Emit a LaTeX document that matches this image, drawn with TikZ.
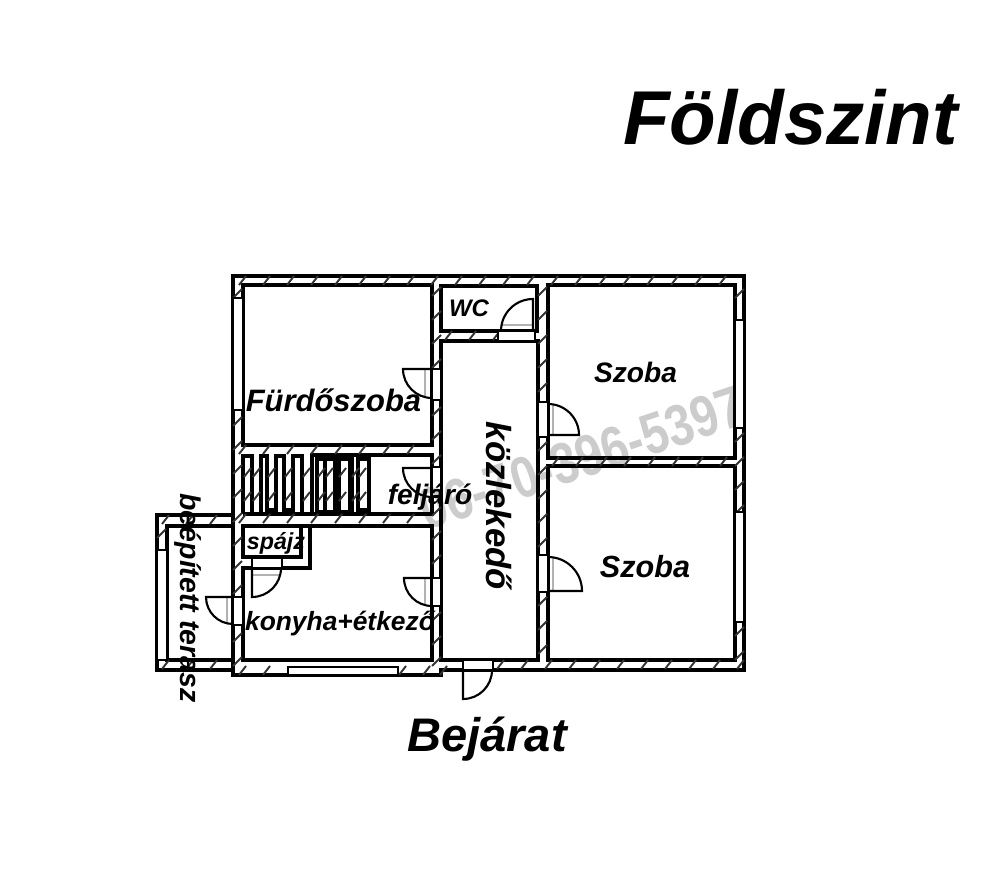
\documentclass[tikz,border=0pt]{standalone}
\usepackage{fontspec}
\setmainfont{Liberation Sans}
\newcommand\hatchH[2]{\foreach \t in {#1}{\draw[tick] (\t,#2+9) -- ++(7,-9);}}
\newcommand\hatchV[2]{\foreach \t in {#2}{\draw[tick] (#1,\t+6) -- ++(9,-9);}}
\newcommand\door[5]{% hinge x, hinge y, start angle, end angle, radius
    \draw[leaf] (#1,#2) -- ++(#3:#5) arc[start angle=#3,end angle=#4,radius=#5];
}
\tikzset{
    wall/.style={line width=.95pt,draw=black},
    tick/.style={line width=.55pt,draw=black!80},
    leaf/.style={line width=.6pt,draw=black},
    gapbox/.style={line width=.5pt,draw=black,fill=white},
    guide/.style={line width=.5pt,draw=black!30},
    label/.style={inner sep=0pt},
}
\begin{document}
\begin{tikzpicture}[x=.01cm,y=-.01cm]
    \useasboundingbox[fill=white] (0,0) rectangle (1000,882);
    % outer walls
    \draw[wall] (233,276) -- (744,276) -- (744,670) -- (441,670) -- (441,675) -- (233,675) -- cycle;
    \draw[wall] (233,515) -- (157,515) -- (157,670) -- (233,670);
    % rooms
    \draw[wall] (243,285) rectangle (432,445);
    \draw[wall] (441,286) rectangle (537,331);
    \draw[wall] (441,341) rectangle (538,660);
    \draw[wall] (548,285) rectangle (735,458);
    \draw[wall] (548,466) rectangle (735,660);
    \draw[wall] (233,526) -- (167,526) -- (167,660) -- (233,660);
    \draw[wall] (243,526) rectangle (301,557);
    \draw[wall] (310,526) -- (432,526) -- (432,660) -- (243,660) -- (243,568) -- (310,568) -- cycle;
    \draw[wall] (243,526) -- (310,526);
    % stair room
    \draw[wall] (312,514) -- (312,455) -- (432,455) -- (432,514) -- (243,514);
    \foreach \xa/\xb in {243/252,261/267,276/284,293/302}{
        \draw[wall] (\xa,514) -- (\xa,456) -- (\xb,456) -- (\xb,514);
    }
    \foreach \xa/\xb in {267/276,284/293}{
        \draw[wall] (\xa,510) -- (\xb,510);
    }
    \draw[wall] (317,459) rectangle (352,512);
    \foreach \x in {325,350}{
        \draw[wall] (\x,459) -- (\x,512);
    }
    \draw[line width=2.2pt] (337,459) -- (337,512);
    \draw[wall] (358,459) rectangle (369,510);
    % treads
    \foreach \x in {244,253,268,285,303,318,326,339,352,359}{
        \foreach \y in {472,496}{
            \draw[tick] (\x,\y+5) -- ++(7,-9);
        }
    }
    % hatching in the walls
    \hatchH{239,263,...,740}{276}
    \hatchH{239,263,...,428}{445}
    \hatchH{239,263,...,428}{514}
    \hatchH{239,263,...,285}{666}
    \hatchH{399,423,440}{666}
    \hatchH{445,469,...,540}{331}
    \hatchH{497,521,...,740}{660}
    \hatchH{552,576,...,730}{457}
    \hatchH{162,186,...,230}{515}
    \hatchH{162,186,...,230}{660}
    \hatchV{233}{292}
    \hatchV{233}{420,444,...,590}
    \hatchV{233}{636,660}
    \hatchV{432}{290,314,...,362}
    \hatchV{432}{410,434,458}
    \hatchV{432}{510,534,...,574}
    \hatchV{432}{615,639,660}
    \hatchV{538}{290,314,...,395}
    \hatchV{538}{445,469,...,550}
    \hatchV{538}{600,624,...,660}
    \hatchV{735}{292}
    \hatchV{735}{436,460,...,508}
    \hatchV{735}{630,654}
    \hatchV{157}{532}
    % windows
    \draw[gapbox] (233,298) rectangle (243,410);
    \draw[gapbox] (735,320) rectangle (744,428);
    \draw[gapbox] (735,512) rectangle (744,622);
    \draw[gapbox] (288,667) rectangle (398,675);
    \draw[gapbox] (157,550) rectangle (167,660);
    % door openings
    \draw[gapbox] (432,369) rectangle (441,400);
    \draw[gapbox] (432,467) rectangle (441,497);
    \draw[gapbox] (432,578) rectangle (441,606);
    \draw[gapbox] (233,597) rectangle (243,625);
    \draw[gapbox] (252,558) rectangle (282,568);
    \draw[gapbox] (498,331) rectangle (535,341);
    \draw[gapbox] (538,402) rectangle (548,437);
    \draw[gapbox] (538,555) rectangle (548,592);
    \draw[gapbox] (463,660) rectangle (493,670);
    % doors
    \draw[guide] (425,370) -- (425,398);
    \draw[guide] (425,578) -- (425,604);
    \draw[guide] (227,597) -- (227,623);
    \draw[guide] (252,575) -- (280,575);
    \draw[guide] (502,325) -- (533,325);
    \draw[guide] (553,405) -- (553,435);
    \draw[guide] (553,558) -- (553,591);
    \door{432}{369}{180}{90}{29}
    \door{432}{468}{180}{90}{29}
    \door{432}{578}{180}{90}{28}
    \door{233}{597}{180}{90}{27}
    \door{252}{568}{90}{0}{29}
    \door{533}{331}{270}{180}{32}
    \door{548}{435}{0}{-90}{31}
    \door{548}{591}{0}{-90}{34}
    \door{463}{670}{90}{0}{29}
    % labels
    \node[label,font=\bfseries\itshape\fontsize{21.7}{24}\selectfont] (title) at (790.5,117) {Földszint};
    \node[label,font=\bfseries\itshape\fontsize{13.4}{15}\selectfont] (entrance) at (487,739) {Bejárat};
    \node[label,font=\bfseries\itshape\fontsize{8.8}{10}\selectfont] (bath) at (333.5,400) {Fürdőszoba};
    \node[label,font=\bfseries\itshape\fontsize{6.8}{8}\selectfont] (toilet) at (469,308) {WC};
    \node[label,font=\bfseries\itshape\fontsize{8}{10}\selectfont] (room-a) at (635.5,372) {Szoba};
    \node[label,font=\bfseries\itshape\fontsize{8.7}{10}\selectfont] (room-b) at (645,567) {Szoba};
    \node[label,font=\bfseries\itshape\fontsize{9.9}{11}\selectfont,rotate=-90] (hall) at (499,506) {közlekedő};
    \node[label,font=\bfseries\itshape\fontsize{8}{10}\selectfont] (stairs) at (430,497) {feljáró};
    \node[label,font=\bfseries\itshape\fontsize{6.6}{8}\selectfont] (pantry) at (276,543) {spájz};
    \node[label,font=\bfseries\itshape\fontsize{7.5}{9}\selectfont] (kitchen) at (340,624) {konyha+étkező};
    \node[label,font=\bfseries\itshape\fontsize{8.1}{10}\selectfont,rotate=-90] (terrace) at (188,598) {beépített terasz};
    % watermark
    \node[label,font=\bfseries\fontsize{16.5}{18}\selectfont,text=black,opacity=.2,rotate=18.5,xscale=.82] (phone) at (582,458) {06-70-396-5397};
\end{tikzpicture}
\end{document}
